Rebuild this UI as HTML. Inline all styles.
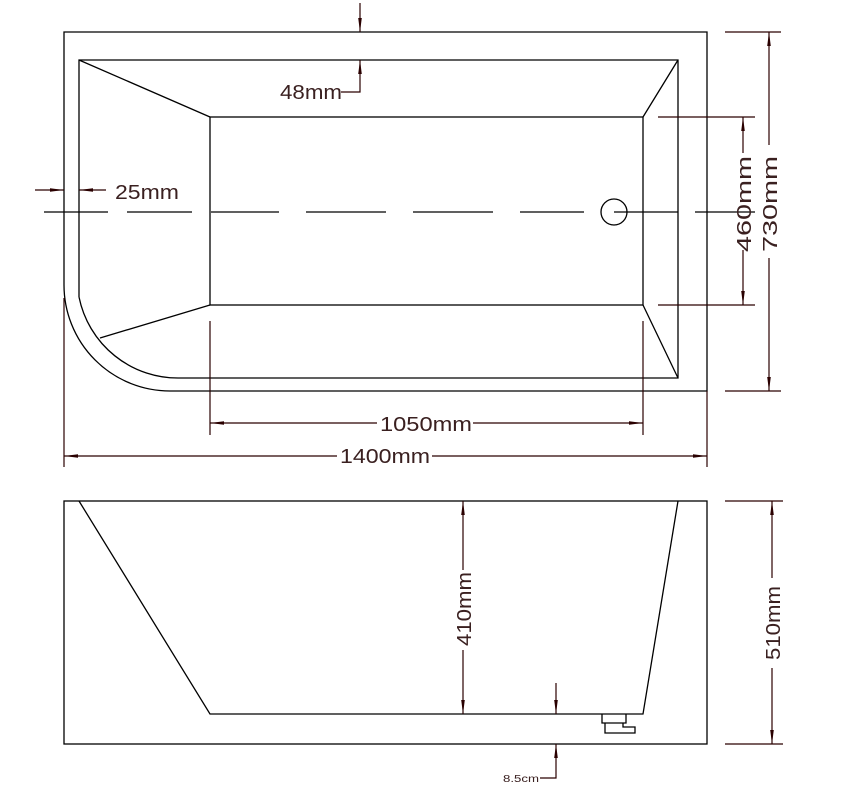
<!DOCTYPE html>
<html><head><style>html,body{margin:0;padding:0;background:#fff}svg{display:block}</style></head>
<body>
<svg width="843" height="800" viewBox="0 0 843 800" xmlns="http://www.w3.org/2000/svg">
<defs>
<marker id="a" markerWidth="14" markerHeight="6" refX="14" refY="3" orient="auto" markerUnits="userSpaceOnUse">
<path d="M0,1.2 L14,3 L0,4.8 Z" fill="#2a0000"/></marker>
</defs>
<g fill="none" stroke="#000" stroke-width="1.3">
<path d="M64,285 L64,32 L707,32 L707,391 L170,391 A106,106 0 0 1 64,285"/>
<path d="M79,297 L79,60 L678,60 L678,378 L180,378 A101,101 0 0 1 79,297"/>
<rect x="210" y="117" width="433" height="188"/>
<path d="M79,60 L210,117 M678,60 L643,117 M643,305 L678,378 M210,305 L100,338"/>
<circle cx="614" cy="212" r="13"/>
<path d="M44,212 H108 M127,212 H192 M211,212 H279 M306,212 H386 M413,212 H493 M520,212 H584 M614,212 H678 M695,212 H755" />
</g>
<g fill="none" stroke="#2a0000" stroke-width="1.2">
<line x1="360" y1="3" x2="360" y2="32" marker-end="url(#a)"/>
<path d="M341,92 H360 V60" marker-end="url(#a)"/>
<line x1="35" y1="190" x2="64" y2="190" marker-end="url(#a)"/>
<line x1="106" y1="190" x2="79" y2="190" marker-end="url(#a)"/>
<path d="M725,32 H781 M725,391 H781 M658,117 H755 M658,305 H755"/>
<line x1="769" y1="145" x2="769" y2="32" marker-end="url(#a)"/>
<line x1="769" y1="258" x2="769" y2="391" marker-end="url(#a)"/>
<line x1="743" y1="153" x2="743" y2="117" marker-end="url(#a)"/>
<line x1="743" y1="250" x2="743" y2="305" marker-end="url(#a)"/>
<path d="M210,321 V435 M643,321 V435 M64,298 V467 M707,391 V467"/>
<line x1="377" y1="423" x2="210" y2="423" marker-end="url(#a)"/>
<line x1="473" y1="423" x2="643" y2="423" marker-end="url(#a)"/>
<line x1="337" y1="456" x2="64" y2="456" marker-end="url(#a)"/>
<line x1="432" y1="456" x2="707" y2="456" marker-end="url(#a)"/>
</g>
<g fill="none" stroke="#000" stroke-width="1.3">
<rect x="64" y="501" width="643" height="243"/>
<path d="M79,501 L210,714 L643,714 L678,501"/>
<path d="M602,714 V723 H626 V714 M605,723 V733 H635 V727 H623 V723"/>
</g>
<g fill="none" stroke="#2a0000" stroke-width="1.2">
<line x1="463" y1="570" x2="463" y2="501" marker-end="url(#a)"/>
<line x1="463" y1="650" x2="463" y2="714" marker-end="url(#a)"/>
<path d="M725,501 H783 M725,744 H783"/>
<line x1="772" y1="578" x2="772" y2="501" marker-end="url(#a)"/>
<line x1="772" y1="668" x2="772" y2="744" marker-end="url(#a)"/>
<line x1="556" y1="683" x2="556" y2="714" marker-end="url(#a)"/>
<path d="M540,778 H556 V744" marker-end="url(#a)"/>
</g>
<g font-family="Liberation Sans, sans-serif" fill="#3a2020" font-size="20">
<text x="280" y="99" textLength="62" lengthAdjust="spacingAndGlyphs">48mm</text>
<text x="115" y="199" textLength="64" lengthAdjust="spacingAndGlyphs">25mm</text>
<text x="380" y="431" textLength="92" lengthAdjust="spacingAndGlyphs">1050mm</text>
<text x="340" y="463" textLength="90" lengthAdjust="spacingAndGlyphs">1400mm</text>
<text transform="translate(751,252) rotate(-90)" textLength="96" lengthAdjust="spacingAndGlyphs">460mm</text>
<text transform="translate(777,252) rotate(-90)" textLength="96" lengthAdjust="spacingAndGlyphs">730mm</text>
<text transform="translate(471,646) rotate(-90)" textLength="74" lengthAdjust="spacingAndGlyphs">410mm</text>
<text transform="translate(780,660) rotate(-90)" textLength="74" lengthAdjust="spacingAndGlyphs">510mm</text>
<text x="503" y="782" font-size="10" textLength="36" lengthAdjust="spacingAndGlyphs">8.5cm</text>
</g>
</svg>
</body></html>
